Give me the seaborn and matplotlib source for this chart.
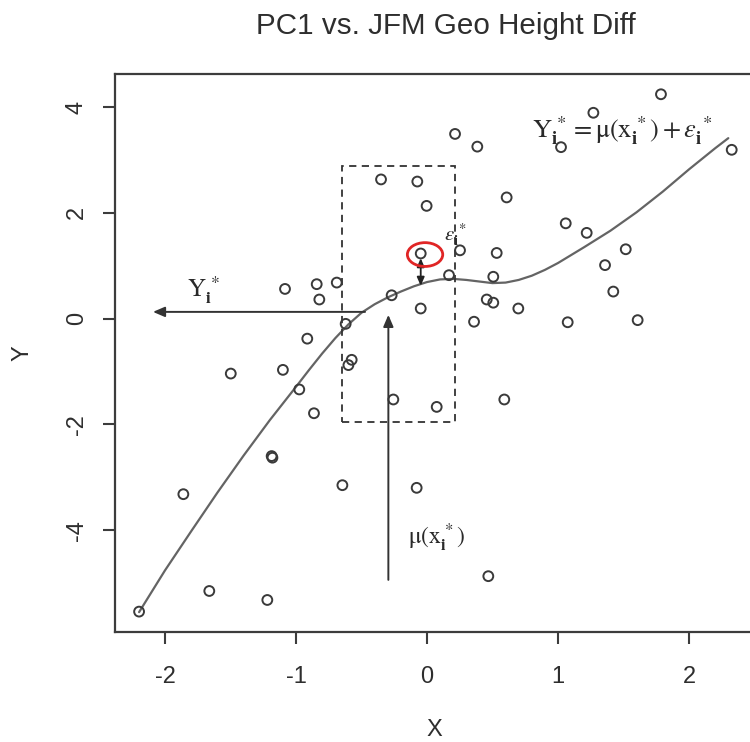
import matplotlib
matplotlib.use("Agg")
import matplotlib.pyplot as plt
from matplotlib.patches import Rectangle, Ellipse
import seaborn as sns
import pandas as pd

# Scatter of PC1 against the JFM geopotential height difference
pc1 = [-2.198, -1.86, -1.662, -1.498, -1.219, -1.186, -1.18, -1.10, -1.084,
       -0.975, -0.914, -0.863, -0.842, -0.822, -0.689, -0.646, -0.621, -0.575,
       -0.60, -0.351, -0.27, -0.257, -0.079, -0.074, -0.048, -0.048, -0.003,
       0.074, 0.168, 0.214, 0.252, 0.359, 0.384, 0.456, 0.468, 0.506, 0.506,
       0.532, 0.59, 0.608, 0.697, 1.023, 1.059, 1.074, 1.219, 1.27, 1.359,
       1.422, 1.517, 1.608, 1.786, 2.326]
geo_diff = [-5.54, -3.32, -5.15, -1.04, -5.32, -2.60, -2.63, -0.97, 0.56,
            -1.34, -0.38, -1.79, 0.65, 0.36, 0.68, -3.15, -0.10, -0.78,
            -0.88, 2.63, 0.44, -1.53, -3.20, 2.59, 1.23, 0.19, 2.13,
            -1.67, 0.82, 3.49, 1.29, -0.06, 3.25, 0.36, -4.87, 0.30, 0.79,
            1.24, -1.53, 2.29, 0.19, 3.24, 1.80, -0.07, 1.62, 3.89, 1.01,
            0.51, 1.31, -0.03, 4.24, 3.19]

# Smoothed regression curve mu(x)
fit_x = [-2.198, -2.0, -1.8, -1.6, -1.4, -1.2, -1.0, -0.9, -0.8, -0.7,
         -0.6, -0.5, -0.4, -0.3, -0.2, -0.1, 0.0, 0.1, 0.2, 0.3, 0.4,
         0.5, 0.6, 0.7, 0.8, 0.9, 1.0, 1.2, 1.4, 1.6, 1.8, 2.0, 2.2, 2.30]
fit_y = [-5.55, -4.76, -4.02, -3.29, -2.59, -1.92, -1.29, -0.97, -0.66,
         -0.37, -0.11, 0.11, 0.27, 0.40, 0.51, 0.61, 0.69, 0.74, 0.75,
         0.73, 0.70, 0.67, 0.68, 0.73, 0.81, 0.92, 1.05, 1.35, 1.66,
         2.01, 2.40, 2.82, 3.22, 3.41]

x_ticks = [-2, -1, 0, 1, 2]
y_ticks = [-4, -2, 0, 2, 4]

# Bootstrap-illustration annotations
window_x = [-0.646, 0.21]        # local window around x_i*
window_y = [-1.95, 2.88]
x_star = -0.295                  # x_i*
mu_level = 0.126                 # mu(x_i*) read back to the Y axis
picked = (-0.048, 1.23)          # selected response Y_i*

sns.set_style("ticks")
plt.rcParams["font.family"] = ["Liberation Sans", "DejaVu Sans"]
plt.rcParams["axes.unicode_minus"] = False
plt.rcParams["mathtext.fontset"] = "stix"

ink = "#2e2e2e"
fig = plt.figure(figsize=(7.5, 7.42), dpi=100)
ax = fig.add_axes([0.1533, 0.1482, 0.8527, 0.7520])

df = pd.DataFrame({"X": pc1, "Y": geo_diff})
fit = pd.DataFrame({"X": fit_x, "Y": fit_y})

sns.lineplot(data=fit, x="X", y="Y", sort=False, estimator=None,
             color="#646464", linewidth=1.6, ax=ax, zorder=2)
sns.scatterplot(data=df, x="X", y="Y", marker="o", s=50,
                facecolor="none", edgecolor="#3a3a3a", linewidth=1.4,
                ax=ax, zorder=3)

ax.set_xlim(-2.382, 2.50)
ax.set_ylim(-5.926, 4.622)
ax.set_xticks(x_ticks)
ax.set_yticks(y_ticks)
ax.set_xticklabels([str(v) for v in x_ticks])
ax.set_yticklabels([str(v) for v in y_ticks])

for side in ["left", "right", "top", "bottom"]:
    ax.spines[side].set_visible(True)
    ax.spines[side].set_color("#3c3c3c")
    ax.spines[side].set_linewidth(1.6)

ax.tick_params(axis="both", direction="out", length=8.5, width=1.5,
               color="#3c3c3c", labelsize=17, labelcolor=ink)
ax.tick_params(axis="x", pad=16)
ax.tick_params(axis="y", pad=11)
plt.setp(ax.get_yticklabels(), rotation=90, va="center", ha="right")

ax.set_xlabel("X", fontsize=17, color=ink)
ax.set_ylabel("Y", fontsize=17, color=ink)
ax.xaxis.set_label_coords(0.5, -0.176)
ax.xaxis.label.set_va("center")
ax.yaxis.set_label_coords(-0.145, 0.5)
ax.yaxis.label.set_va("center")
ax.set_title("PC1 vs. JFM Geo Height Diff", fontsize=21.3, color=ink,
             pad=29, x=0.518)

# dashed window
ax.add_patch(Rectangle((window_x[0], window_y[0]), window_x[1] - window_x[0],
                       window_y[1] - window_y[0], fill=False, ec="#333333",
                       lw=1.3, ls=(0, (4, 3)), zorder=2))

# arrows
arrow_kw = dict(arrowstyle="-|>,head_length=0.7,head_width=0.3",
                color="#333333", lw=1.4, shrinkA=0, shrinkB=0)
ax.annotate("", xy=(-2.092, mu_level), xytext=(-0.473, mu_level),
            arrowprops=arrow_kw, zorder=4)
ax.annotate("", xy=(x_star, 0.07), xytext=(x_star, -4.94),
            arrowprops=arrow_kw, zorder=4)
ax.annotate("", xy=(picked[0], 0.62), xytext=(picked[0], 1.14),
            arrowprops=dict(arrowstyle="<|-|>,head_length=0.5,head_width=0.22",
                            color="#222222", lw=1.3, shrinkA=0, shrinkB=0),
            zorder=4)

# highlighted residual
ax.add_patch(Ellipse((picked[0] + 0.033, picked[1] - 0.02), 0.27, 0.45,
                     fill=False, ec="#e02525", lw=2.0, zorder=5))

serif = dict(color="#2a2a2a", zorder=6)
ax.text(-1.83, 0.40, r"$\mathrm{Y}_{\mathbf{i}}^{\,*}$", fontsize=18,
        ha="left", va="baseline", **serif)
ax.text(-0.145, -4.28, r"$\mathrm{\mu}(\mathrm{x}_{\mathbf{i}}^{\,*})$",
        fontsize=17, ha="left", va="baseline", **serif)
ax.text(0.13, 1.48, r"$\varepsilon_{\mathbf{i}}^{\,*}$", fontsize=15,
        ha="left", va="baseline", **serif)
ax.text(0.80, 3.41,
        r"$\mathrm{Y}_{\mathbf{i}}^{\,*} = \mathrm{\mu}(\mathrm{x}_{\mathbf{i}}^{\,*}) + \varepsilon_{\mathbf{i}}^{\,*}$",
        fontsize=19, ha="left", va="baseline", **serif)

fig.savefig("out.png", dpi=100)
